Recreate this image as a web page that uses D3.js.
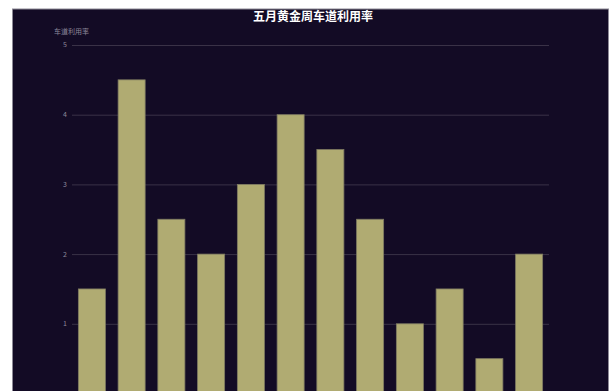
<!DOCTYPE html>
<meta charset="utf-8">
<style>
body { margin: 0; background: #fff; }
svg { display: block; font-family: "Noto Sans CJK SC", "Noto Sans", sans-serif; }
.grid line { stroke: #3a3247; stroke-width: 1px; }
.grid .domain { display: none; }
.ylab text { fill: #8c889a; font-size: 7px; }
.bar { fill: #b0ab72; stroke: #7f7b62; stroke-width: 0.8px; }
</style>
<svg width="610" height="391"></svg>
<script src="https://d3js.org/d3.v7.min.js"></script>
<script>

// data
var categories = ["车道1", "车道2", "车道3", "车道4", "车道5", "车道6",
                  "车道7", "车道8", "车道9", "车道10", "车道11", "车道12"];
var values = [1.5, 4.5, 2.5, 2, 3, 4, 3.5, 2.5, 1, 1.5, 0.5, 2];
var yTicks = [0, 1, 2, 3, 4, 5];

var svg = d3.select("svg");

// dark panel
svg.append("rect")
    .attr("x", 12.5).attr("y", 9)
    .attr("width", 596).attr("height", 420)
    .attr("fill", "#130b25")
    .attr("stroke", "#8d8a96")
    .attr("stroke-width", 1);

var x = d3.scaleBand()
    .domain(categories)
    .range([72, 549])
    .paddingInner(0.32)
    .paddingOuter(0.16);

var y = d3.scaleLinear()
    .domain([0, 5])
    .range([393.5, 45]);

// gridlines
svg.append("g")
    .attr("class", "grid")
    .attr("transform", "translate(72,0)")
    .call(d3.axisLeft(y).tickValues(yTicks).tickSize(-477).tickFormat(""));

// y labels
svg.append("g")
    .attr("class", "ylab")
    .selectAll("text")
    .data(yTicks)
    .enter().append("text")
      .attr("x", 67)
      .attr("y", function(d) { return y(d); })
      .attr("dy", "0.35em")
      .attr("text-anchor", "end")
      .text(function(d) { return d; });

// bars
svg.selectAll(".bar")
    .data(values)
    .enter().append("rect")
      .attr("class", "bar")
      .attr("x", function(d, i) { return x(categories[i]); })
      .attr("width", x.bandwidth())
      .attr("y", function(d) { return y(d); })
      .attr("height", function(d) { return y(0) - y(d); });

// axis name
svg.append("text")
    .attr("x", 54)
    .attr("y", 34)
    .attr("fill", "#8c889a")
    .style("font-size", "7px")
    .text("车道利用率");

// title
svg.append("text")
    .attr("x", 313)
    .attr("y", 21)
    .attr("text-anchor", "middle")
    .attr("fill", "#ffffff")
    .style("font-size", "12px")
    .style("font-weight", "bold")
    .text("五月黄金周车道利用率");

</script>
